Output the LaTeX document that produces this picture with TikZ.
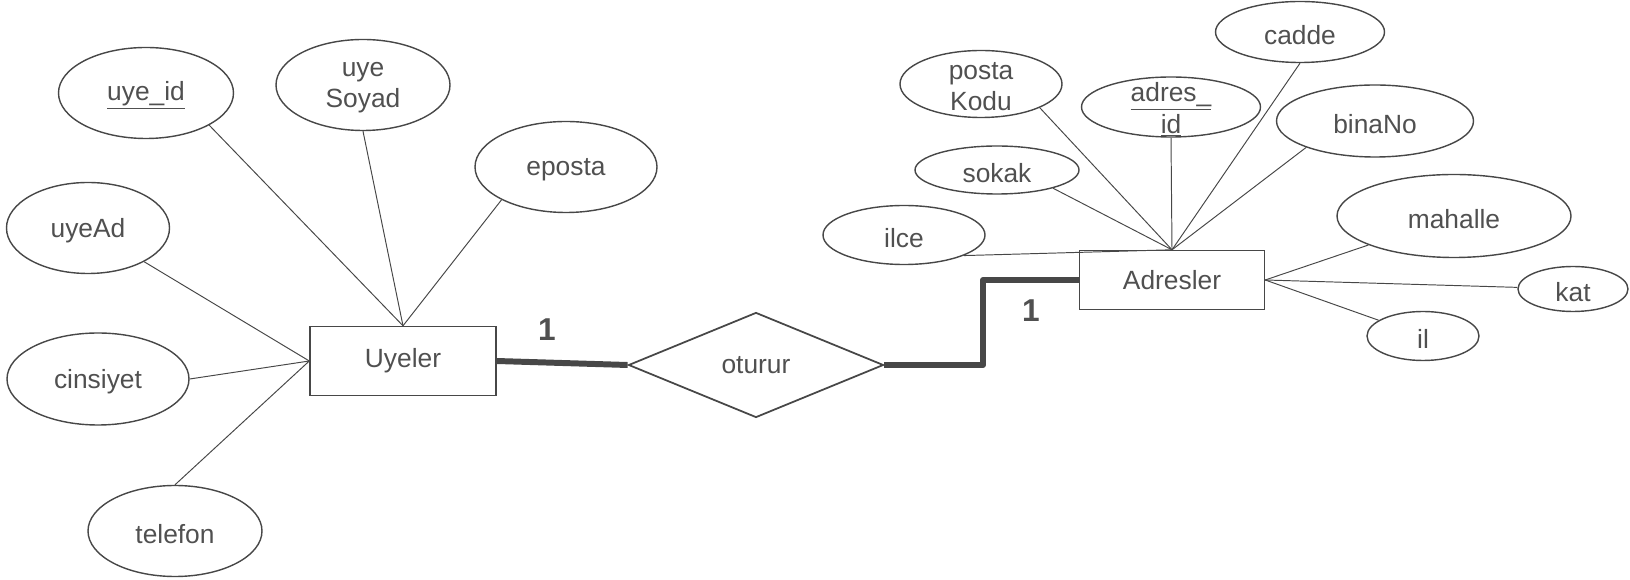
\documentclass[tikz,border=0pt]{standalone}
\usepackage{fontspec}
\setmainfont{Liberation Sans}
\usetikzlibrary{shapes.geometric}

\definecolor{linegray}{HTML}{474747}
\definecolor{textgray}{HTML}{505050}

\tikzset{
	txt/.style={text=textgray, align=center, font=\fontsize{15}{18}\selectfont},
	attr/.style n args={3}{ellipse, draw=linegray, line width=0.8pt, inner sep=0pt,
		minimum width=#1*0.02cm, minimum height=#2*0.02cm, label={[txt, yshift=-1.5pt]center:#3}},
	entity/.style 2 args={rectangle, draw=linegray, line width=0.8pt, inner sep=0pt,
		minimum width=#1*0.02cm, minimum height=#2*0.02cm, txt},
	relation/.style={diamond, draw=linegray, line width=1pt, inner sep=0pt, aspect=2.4,
		minimum width=255*0.02cm, minimum height=105*0.02cm, txt},
	conn/.style={draw=linegray, line width=0.55pt},
	heavy/.style={draw=linegray, line width=3.4pt, line join=round},
	card/.style={text=textgray, font=\fontsize{18}{20}\selectfont\bfseries},
}

\begin{document}
\begin{tikzpicture}[x=0.02cm, y=-0.02cm]

\useasboundingbox (0,0) rectangle (1630,580);

%% Uyeler
\begin{scope}
	%% Entitaet
	\node[entity={186}{69}] (uyeler) at (403,361) {Uyeler};
	%%%%%%%%%%%%%%%%

	%% Attribute
	\node[attr={175}{91}{\underline{uye\_id}}] (uyeid) at (146,93) {};
	\node[attr={174}{91}{uye\\Soyad}] (uyesoyad) at (363,85) {};
	\node[attr={182}{91}{eposta}] (eposta) at (566,167) {};
	\node[attr={163}{91}{uyeAd}] (uyead) at (88,228) {};
	\node[attr={182}{92}{cinsiyet}] (cinsiyet) at (98,379) {};
	\node[attr={174}{91}{telefon}] (telefon) at (175,531) {};

	\draw[conn] (uyeid.-27) -- (uyeler.north);
	\draw[conn] (uyesoyad.south) -- (uyeler.north);
	\draw[conn] (eposta.-153) -- (uyeler.north);
	\draw[conn] (uyead) -- (uyeler.west);
	\draw[conn] (cinsiyet.east) -- (uyeler.west);
	\draw[conn] (telefon.north) -- (uyeler.west);
\end{scope}


%% Adresler
\begin{scope}
	%% Entitaet
	\node[entity={185}{59}] (adresler) at (1172,280) {Adresler};
	%%%%%%%%%%%%%%%%

	%% Attribute
	\node[attr={169}{61}{cadde}] (cadde) at (1300,32) {};
	\node[attr={162}{67}{posta\\Kodu}] (postakodu) at (981,84) {};
	\node[attr={179}{60}{\underline{adres\_}\\\underline{id}}] (adresid) at (1171,107) {};
	\node[attr={197}{72}{binaNo}] (binano) at (1375,121) {};
	\node[attr={164}{48}{sokak}] (sokak) at (997,170) {};
	\node[attr={162}{59}{ilce}] (ilce) at (904,235) {};
	\node[attr={234}{83}{mahalle}] (mahalle) at (1454,216) {};
	\node[attr={110}{45}{kat}] (kat) at (1573,289) {};
	\node[attr={112}{49}{il}] (il) at (1423,336) {};

	\draw[conn] (postakodu.-22) -- (adresler.north);
	\draw[conn] (adresid.south) -- (adresler.north);
	\draw[conn] (cadde.south) -- (adresler.north);
	\draw[conn] (binano.-159) -- (adresler.north);
	\draw[conn] (sokak.-18) -- (adresler.north);
	\draw[conn] (ilce.-19) -- (adresler.north);
	\draw[conn] (mahalle) -- (adresler.east);
	\draw[conn] (kat) -- (adresler.east);
	\draw[conn] (il) -- (adresler.east);
\end{scope}


%% Beziehung
\begin{scope}
	\node[relation] (oturur) at (756,365) {oturur};
	\coordinate (knick) at (983,320);

	\draw[heavy] (uyeler.east) -- (oturur.west);
	\draw[heavy] (oturur.east) -| (knick) |- (adresler.west);

	\node[card] (kard1) at (547,330) {1};
	\node[card] (kard2) at (1031,311) {1};
\end{scope}

\end{tikzpicture}
\end{document}
